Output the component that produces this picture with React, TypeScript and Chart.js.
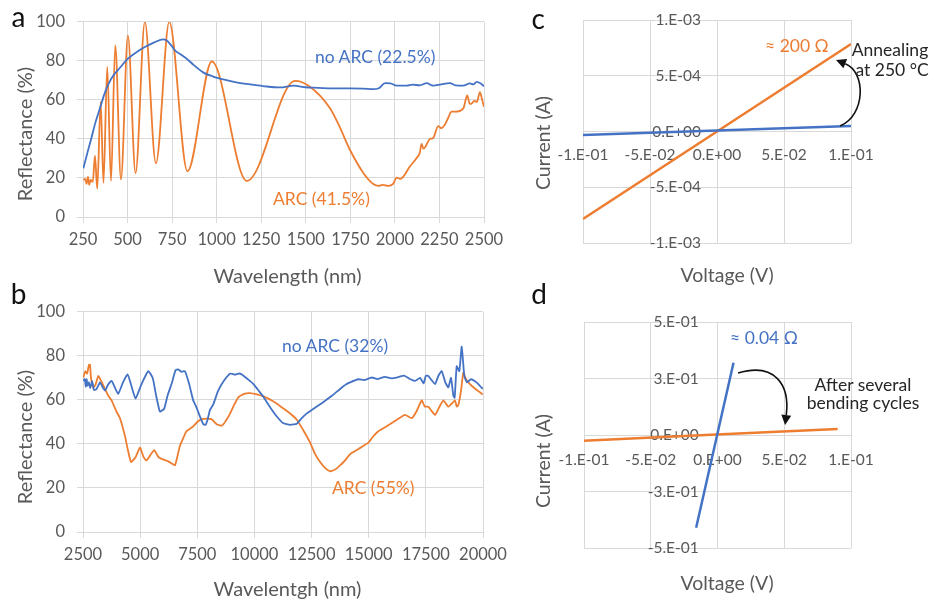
import React, { useEffect, useRef } from "react";
import { Chart, registerables } from "chart.js";
Chart.register(...registerables);

const BLUE = "#4472C4";
const ORANGE = "#ED7D31";
const GRID = "#D9D9D9";
const TICK = "#595959";
const FONT = "Lato, 'Open Sans', sans-serif";

// ---------- Panel a (UV-Vis-NIR) ----------
const aNoArcWl = [252,275,298,320,345,370,392,420,448,504,550,597,650,700,720,745,766,795,840,870,926,980,1038,1110,1188,1270,1356,1431,1500,1543,1640,1750,1820,1879,1910,1945,1975,2010,2066,2100,2140,2178,2215,2260,2309,2340,2384,2420,2440,2459,2480,2500];
const aNoArcR = [25,33,40.8,48.5,55.7,63,68,72.5,75.5,81.3,84.5,87.1,89.5,91,90.5,88,85.4,83.5,80.5,78,74,72,70.5,69,68,67,66.4,67.3,66.5,66.3,65.9,65.9,65.8,65.5,66,68.6,68.5,67.3,67.3,67.8,67.5,68.6,67.3,68,68.6,67.5,67.3,68.5,68,69.3,68.5,67];
const aArcWl = [252,262,270,278,285,293,305,317,330,349,365,386,407,431,463,502,545,597,659,734,836,973,1169,1440,1520,1636,1692,1749,1823,1879,1910,1930,1963,1990,2010,2030,2085,2120,2140,2150,2160,2197,2215,2243,2260,2281,2300,2318,2340,2384,2406,2420,2431,2445,2460,2477,2490,2500];
const aArcR = [19,19.5,17,20.5,16.5,19,18,31.5,14.5,59,17.5,77,18.5,88,19.3,93,22.5,100,27.5,100,23.5,79.7,18.5,69.8,67,55.7,45.8,34.2,22.6,16.9,16,16.5,16,17,20.2,19.5,26,30,33,37.5,35,40,40.5,46.6,45.5,47.4,51,54,54,55.7,62.3,58,58.2,59.5,59,64,60,56.5];
const aXTicks = [250,500,750,1000,1250,1500,1750,2000,2250,2500];
const aYTicks = [0,20,40,60,80,100];

// ---------- Panel b (MIR) ----------
const bNoArcWl = [2513,2580,2620,2660,2700,2760,2820,2900,2980,3095,3243,3350,3462,3600,3750,3900,4043,4250,4450,4600,4800,5050,5355,5550,5700,5866,6050,6200,6373,6550,6666,6800,6960,7150,7322,7450,7615,7760,7860,7950,8052,8200,8415,8650,8940,9150,9300,9451,9700,9958,10200,10396,10700,10981,11250,11563,11856,12050,12293,12650,13019,13400,13749,14000,14186,14549,14800,15134,15400,15700,16000,16297,16550,16800,17027,17250,17400,17500,17609,17750,17902,18050,18195,18350,18483,18600,18702,18760,18850,18964,19069,19183,19300,19476,19650,19795,19987];
const bNoArcR = [68.7,69.5,66,69.4,66.5,68,65.5,68.5,64.5,65,68,66,64.2,67,68.7,65.5,62.8,68,71.6,67,60.6,67,73.1,70,62,54.7,56,62,67.2,73.5,73.9,72.8,73.1,67,59.8,57,52.5,49,48.7,51,55.4,58,64.2,68.5,72,71.5,72,71.6,69.5,67.2,64,61.3,56.5,52.5,49.5,48.7,49.2,51.5,53.9,56.5,59.1,62,65,67,68,69.4,69,70.2,69.5,70.5,69.8,70.4,71,69.5,68.7,70,67.5,71,70.9,69,67.2,71,73.1,68,65.7,70,62,61,75.3,73.1,84.2,70.9,68,69.4,68.5,67.2,65];
const bArcWl = [2513,2600,2680,2760,2806,2850,2950,3050,3169,3300,3462,3600,3750,3950,4118,4336,4450,4599,4800,4992,5150,5280,5450,5617,5800,5936,6100,6229,6400,6522,6600,6741,6900,7029,7322,7500,7685,7900,8122,8350,8577,8750,8940,9100,9303,9550,9814,10100,10396,10800,11270,11600,11856,12150,12437,12650,12874,13100,13311,13550,13749,13967,14186,14549,14986,15200,15423,15700,16009,16300,16590,16883,17100,17320,17450,17609,17750,17902,18100,18265,18483,18650,18776,18850,18921,19039,19139,19250,19358,19550,19795,19987];
const bArcR = [70.2,73,72,76,76,70,65.7,67,70.9,68.5,65,62,59.8,55,51.7,43.6,38,31.8,34,38.4,34,32.5,35,37.2,34,33.2,32.6,32.1,31,30.3,33,39.2,43,45.8,48,50,51.3,51.5,51.3,49,48.3,50.5,53.9,57.5,61.3,62.8,63.1,62.5,61.6,59.5,56.1,53.5,51,46,40.6,35.5,31.8,29,27.6,28.5,30.3,32.5,35.4,37.7,40.6,43.5,45.8,47.5,49.5,51.5,53.2,51.7,55,59.8,57,56.9,55,53.2,57,59.8,56.9,58.5,59.8,57,57.6,64.2,72.4,69.5,68,66,64,62.5];
const bXTicks = [2500,5000,7500,10000,12500,15000,17500,20000];
const bYTicks = [0,20,40,60,80,100];

// ---------- Panel c (I-V, annealing) ----------
const cVoltage = [-0.1, 0.1];
const cBeforeI = [-3.1e-5, 5e-5];
const cAnnealedI = [-7.85e-4, 7.85e-4];
const cXTicks = [-0.1, -0.05, 0, 0.05, 0.1];
const cXTickLabels = ["-1.E-01", "-5.E-02", "0.E+00", "5.E-02", "1.E-01"];
const cYTicks = [-1e-3, -5e-4, 0, 5e-4, 1e-3];
const cYTickLabels = ["-1.E-03", "-5.E-04", "0.E+00", "5.E-04", "1.E-03"];

// ---------- Panel d (I-V, bending) ----------
const dBeforeV = [-0.016, 0.012];
const dBeforeI = [-0.41, 0.32];
const dAfterV = [-0.1, 0.09];
const dAfterI = [-0.025, 0.0265];
const dXTicks = [-0.1, -0.05, 0, 0.05, 0.1];
const dXTickLabels = ["-1.E-01", "-5.E-02", "0.E+00", "5.E-02", "1.E-01"];
const dYTicks = [-0.5, -0.25, 0, 0.25, 0.5];
const dYTickLabels = ["-5.E-01", "-3.E-01", "0.E+00", "3.E-01", "5.E-01"];

const zip = (xs: number[], ys: number[]) => xs.map((x, i) => ({ x, y: ys[i] }));

type Arrow = { from: number[]; c1: number[]; c2: number[]; to: number[] };
const arrowPlugin = (arrows: Arrow[]) => ({
  id: "arrows",
  afterDatasetsDraw(chart: any) {
    const { ctx, scales } = chart;
    const xs = scales.x, ys = scales.y;
    const P = (p: number[]) => [xs.getPixelForValue(p[0]), ys.getPixelForValue(p[1])];
    arrows.forEach((a) => {
      const s = P(a.from), c1 = P(a.c1), c2 = P(a.c2), e = P(a.to);
      const ang = Math.atan2(e[1] - c2[1], e[0] - c2[0]);
      const L = 10, W = 5;
      const bx = e[0] - Math.cos(ang) * L, by = e[1] - Math.sin(ang) * L;
      ctx.save();
      ctx.strokeStyle = "#111";
      ctx.fillStyle = "#111";
      ctx.lineWidth = 1.6;
      ctx.beginPath();
      ctx.moveTo(s[0], s[1]);
      ctx.bezierCurveTo(c1[0], c1[1], c2[0], c2[1], bx, by);
      ctx.stroke();
      ctx.beginPath();
      ctx.moveTo(e[0], e[1]);
      ctx.lineTo(bx - Math.sin(ang) * W, by + Math.cos(ang) * W);
      ctx.lineTo(bx + Math.sin(ang) * W, by - Math.cos(ang) * W);
      ctx.closePath();
      ctx.fill();
      ctx.restore();
    });
  },
});

const line = (data: any[], color: string, width: number, smooth: boolean) => ({
  data,
  borderColor: color,
  backgroundColor: color,
  borderWidth: width,
  pointRadius: 0,
  fill: false,
  cubicInterpolationMode: smooth ? "monotone" : "default",
  tension: smooth ? 0 : 0.15,
});

const spectrumConfig = (
  datasets: any[],
  xTicks: number[],
  yTicks: number[],
  pad: { top: number; right: number },
  xHeight: number
) => ({
  type: "line",
  data: { datasets },
  options: {
    animation: false,
    responsive: false,
    events: [],
    layout: { padding: { left: 0, top: pad.top, right: pad.right, bottom: 0 } },
    plugins: { legend: { display: false }, tooltip: { enabled: false } },
    scales: {
      x: {
        type: "linear",
        min: xTicks[0],
        max: xTicks[xTicks.length - 1],
        afterBuildTicks: (s: any) => { s.ticks = xTicks.map((v) => ({ value: v })); },
        ticks: { color: TICK, font: { family: FONT, size: 16.5 }, padding: 7, maxRotation: 0, autoSkip: false, callback: (v: any) => String(v) },
        grid: { color: GRID, tickLength: 6 },
        border: { color: GRID },
        afterFit: (s: any) => { s.height = xHeight; },
      },
      y: {
        type: "linear",
        min: yTicks[0],
        max: yTicks[yTicks.length - 1],
        afterBuildTicks: (s: any) => { s.ticks = yTicks.map((v) => ({ value: v })); },
        ticks: { color: TICK, font: { family: FONT, size: 16.5 }, padding: 12, callback: (v: any) => String(v) },
        grid: { color: GRID, tickLength: 6 },
        border: { display: false },
        afterFit: (s: any) => { s.width = 83; },
      },
    },
  },
});

const ivConfig = (
  datasets: any[],
  xTicks: number[],
  xLabels: string[],
  yTicks: number[],
  yLabels: string[],
  yAxisAt: number,
  pad: any,
  xPad: number,
  arrows: Arrow[]
) => ({
  type: "line",
  data: { datasets },
  options: {
    animation: false,
    responsive: false,
    events: [],
    layout: { padding: pad },
    plugins: { legend: { display: false }, tooltip: { enabled: false } },
    scales: {
      x: {
        type: "linear",
        position: { y: 0 },
        min: xTicks[0],
        max: xTicks[xTicks.length - 1],
        afterBuildTicks: (s: any) => { s.ticks = xTicks.map((v) => ({ value: v })); },
        ticks: { color: TICK, font: { family: FONT, size: 15.5 }, padding: xPad, maxRotation: 0, autoSkip: false, callback: (_v: any, i: number) => xLabels[i] },
        grid: { color: GRID, drawTicks: false },
        border: { display: false },
      },
      y: {
        type: "linear",
        position: { x: yAxisAt },
        min: yTicks[0],
        max: yTicks[yTicks.length - 1],
        afterBuildTicks: (s: any) => { s.ticks = yTicks.map((v) => ({ value: v })); },
        ticks: { color: TICK, font: { family: FONT, size: 15.5 }, autoSkip: false, callback: (_v: any, i: number) => yLabels[i] },
        grid: { color: GRID, drawTicks: false },
        border: { display: false },
      },
    },
  },
  plugins: [arrowPlugin(arrows)],
});

function ChartBox({ left, top, width, height, make }: any) {
  const ref = useRef<HTMLCanvasElement>(null);
  useEffect(() => {
    const chart = new Chart(ref.current as HTMLCanvasElement, make());
    return () => chart.destroy();
  }, []);
  return (
    <canvas
      ref={ref}
      width={width}
      height={height}
      style={{ position: "absolute", left, top, width, height }}
    />
  );
}

function Txt({ x, y, children, color = TICK, size = 17.5, align = "left", rotate = false, weight = 400 }: any) {
  const tx = align === "center" ? "-50%" : "0";
  return (
    <div
      style={{
        position: "absolute",
        left: x,
        top: y,
        transform: `translate(${tx}, -50%)${rotate ? " rotate(-90deg)" : ""}`,
        color,
        fontSize: size,
        fontWeight: weight,
        lineHeight: 1,
        whiteSpace: "nowrap",
        fontFamily: FONT,
        textAlign: "center",
      }}
    >
      {children}
    </div>
  );
}

export default function App() {
  return (
    <div style={{ position: "absolute", left: 0, top: 0, width: 931, height: 601, overflow: "hidden", background: "#fff" }}>
      <ChartBox
        left={0}
        top={0}
        width={520}
        height={290}
        make={() =>
          spectrumConfig(
            [line(zip(aNoArcWl, aNoArcR), BLUE, 1.8, true), line(zip(aArcWl, aArcR), ORANGE, 1.8, true)],
            aXTicks,
            aYTicks,
            { top: 15, right: 36 },
            73
          )
        }
      />
      <ChartBox
        left={0}
        top={290}
        width={520}
        height={317}
        make={() =>
          spectrumConfig(
            [line(zip(bNoArcWl, bNoArcR), BLUE, 1.8, false), line(zip(bArcWl, bArcR), ORANGE, 1.8, false)],
            bXTicks,
            bYTicks,
            { top: 16, right: 37 },
            75
          )
        }
      />
      <ChartBox
        left={520}
        top={0}
        width={411}
        height={290}
        make={() =>
          ivConfig(
            [line(zip(cVoltage, cBeforeI), BLUE, 2.5, false), line(zip(cVoltage, cAnnealedI), ORANGE, 2.5, false)],
            cXTicks,
            cXTickLabels,
            cYTicks,
            cYTickLabels,
            -0.012,
            { left: 63, right: 80, top: 20, bottom: 47 },
            14,
            [{ from: [0.0918, 4.9e-5], c1: [0.1112, 1.48e-4], c2: [0.1112, 5.34e-4], to: [0.0888, 6.41e-4] }]
          )
        }
      />
      <ChartBox
        left={520}
        top={290}
        width={411}
        height={311}
        make={() =>
          ivConfig(
            [line(zip(dBeforeV, dBeforeI), BLUE, 2.5, false), line(zip(dAfterV, dAfterI), ORANGE, 2.5, false)],
            dXTicks,
            dXTickLabels,
            dYTicks,
            dYTickLabels,
            -0.014,
            { left: 64, right: 80, top: 32, bottom: 53 },
            16,
            [{ from: [0.0154, 0.274], c1: [0.0431, 0.323], c2: [0.0543, 0.221], to: [0.0506, 0.044] }]
          )
        }
      />

      {/* panel letters */}
      <Txt x={18.5} y={15.7} size={28} color="#111" align="center">a</Txt>
      <Txt x={18.5} y={293} size={28} color="#111" align="center">b</Txt>
      <Txt x={538.3} y={17.9} size={28} color="#111" align="center">c</Txt>
      <Txt x={539} y={293} size={28} color="#111" align="center">d</Txt>

      {/* axis titles */}
      <Txt x={23.5} y={134} size={20} align="center" rotate>Reflectance (%)</Txt>
      <Txt x={287.5} y={275} size={20} align="center">Wavelength (nm)</Txt>
      <Txt x={23.5} y={437} size={20} align="center" rotate>Reflectance (%)</Txt>
      <Txt x={287.5} y={588} size={20} align="center">Wavelentgh (nm)</Txt>
      <Txt x={543} y={143} size={19.5} align="center" rotate>Current (A)</Txt>
      <Txt x={727} y={275} size={19.5} align="center">Voltage (V)</Txt>
      <Txt x={543} y={461} size={19.5} align="center" rotate>Current (A)</Txt>
      <Txt x={727} y={583} size={19.5} align="center">Voltage (V)</Txt>

      {/* annotations */}
      <Txt x={315} y={57} color={BLUE}>no ARC (22.5%)</Txt>
      <Txt x={273} y={199} color={ORANGE}>ARC (41.5%)</Txt>
      <Txt x={282} y={346} color={BLUE}>no ARC (32%)</Txt>
      <Txt x={332} y={488} color={ORANGE}>ARC (55%)</Txt>
      <Txt x={765} y={46} color={ORANGE}>≈ 200 Ω</Txt>
      <Txt x={890} y={50} color="#262626" align="center">Annealing</Txt>
      <Txt x={892} y={70} color="#262626" align="center">at 250 °C</Txt>
      <Txt x={730} y={338} color={BLUE}>≈ 0.04 Ω</Txt>
      <Txt x={863} y={385} color="#262626" align="center">After several</Txt>
      <Txt x={863} y={403} color="#262626" align="center">bending cycles</Txt>
    </div>
  );
}
